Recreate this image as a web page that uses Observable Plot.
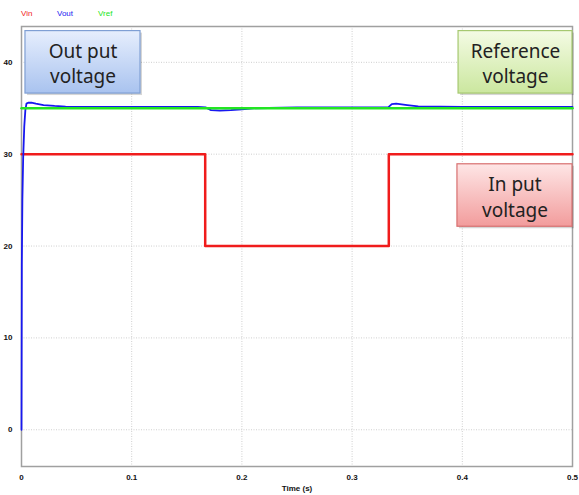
<!DOCTYPE html>
<html>
<head>
<meta charset="utf-8">
<script src="https://cdn.jsdelivr.net/npm/d3@7"></script>
<script src="https://cdn.jsdelivr.net/npm/@observablehq/plot@0.6"></script>
<style>
  body { margin: 0; background: #fff; }
  #legend { position: relative; height: 20px; width: 579px; font-family: "Liberation Sans", Arial, sans-serif; font-size: 8px; }
  #legend span { position: absolute; top: 9px; }
</style>
</head>
<body>
<div id="legend"></div>
<div id="chart"></div>
<script>
// ---- data ----
const seriesNames = ["Vin", "Vout", "Vref"];
const seriesColors = ["#f01c1c", "#1818f0", "#22e622"];
const legendLeft = [21, 57, 98];

// Input voltage (step changes)
const vinTime = [0, 0.1667, 0.3333, 0.5];
const vinValue = [30, 20, 30, 30];

// Output voltage
const voutTime = [0, 0.0003, 0.0008, 0.0015, 0.0025, 0.0035, 0.0045, 0.006, 0.009, 0.013, 0.02, 0.03, 0.04, 0.05, 0.08, 0.12, 0.16, 0.167, 0.172, 0.18, 0.19, 0.2, 0.21, 0.25, 0.3, 0.333, 0.336, 0.34, 0.35, 0.36, 0.4, 0.45, 0.5];
const voutValue = [0, 18, 25, 29.5, 33, 34.8, 35.5, 35.6, 35.6, 35.5, 35.35, 35.25, 35.18, 35.15, 35.15, 35.15, 35.15, 35.1, 34.8, 34.75, 34.8, 34.88, 35.0, 35.08, 35.1, 35.12, 35.45, 35.5, 35.35, 35.2, 35.15, 35.15, 35.15];

// Reference voltage
const vrefTime = [0, 0.5];
const vrefValue = [35, 35];

// Axis ticks
const yTicks = [0, 10, 20, 30, 40];
const xTicks = [0, 0.1, 0.2, 0.3, 0.4, 0.5];
const xGrid = [0.1, 0.2, 0.3, 0.4];

// Annotation boxes (data coordinates)
const boxLabels = ["Out put\nvoltage", "Reference\nvoltage", "In put\nvoltage"];
const boxT1 = [0.0036, 0.3966, 0.3956];
const boxT2 = [0.108, 0.5, 0.5];
const boxV1 = [36.6, 36.6, 22.1];
const boxV2 = [43.4, 43.4, 28.9];
const boxGrad = ["gBlue", "gGreen", "gRed"];
const boxBorder = ["#7f9fd4", "#a6c870", "#d87070"];

// ---- build ----
const vin = vinTime.map((t, i) => ({t, v: vinValue[i]}));
const vout = voutTime.map((t, i) => ({t, v: voutValue[i]}));
const vref = vrefTime.map((t, i) => ({t, v: vrefValue[i]}));
const boxes = boxLabels.map((label, i) => ({
  label, t1: boxT1[i], t2: boxT2[i], v1: boxV1[i], v2: boxV2[i],
  tm: (boxT1[i] + boxT2[i]) / 2, vm: (boxV1[i] + boxV2[i]) / 2,
  fill: `url(#${boxGrad[i]})`, stroke: boxBorder[i]
}));

const legend = document.getElementById("legend");
seriesNames.forEach((n, i) => {
  const s = document.createElement("span");
  s.textContent = n;
  s.style.left = legendLeft[i] + "px";
  s.style.color = seriesColors[i];
  legend.appendChild(s);
});

const chart = Plot.plot({
  width: 579,
  height: 475,
  marginTop: 6,
  marginBottom: 29,
  marginLeft: 21,
  marginRight: 7,
  style: {fontFamily: "'Liberation Sans', Arial, sans-serif", fontSize: "8px", color: "#111", background: "#fff"},
  x: {domain: [0, 0.5], label: null},
  y: {domain: [-4, 43.9], label: null},
  marks: [
    Plot.ruleY(yTicks, {stroke: "#cfcfcf", strokeWidth: 1, strokeDasharray: "1,1.5"}),
    Plot.ruleX(xGrid, {stroke: "#cfcfcf", strokeWidth: 1, strokeDasharray: "1,1.5"}),
    Plot.frame({stroke: "#a0a0a0", strokeWidth: 1.5}),
    Plot.axisX({ticks: xTicks, tickSize: 0, tickPadding: 8, tickFormat: d => String(d), label: null, fontWeight: "bold"}),
    Plot.text(["Time (s)"], {frameAnchor: "bottom", dy: 24, text: d => d, fontWeight: "bold", fontSize: 8}),
    Plot.axisY({ticks: yTicks, tickSize: 0, tickPadding: 9, label: null, fontWeight: "bold"}),
    Plot.line(vin, {x: "t", y: "v", curve: "step-after", stroke: seriesColors[0], strokeWidth: 2.5}),
    Plot.line(vout, {x: "t", y: "v", stroke: seriesColors[1], strokeWidth: 1.8}),
    Plot.line(vref, {x: "t", y: "v", stroke: seriesColors[2], strokeWidth: 2.5}),
    Plot.rect(boxes, {x1: "t1", x2: "t2", y1: "v1", y2: "v2", fill: "#000", fillOpacity: 0.16, dx: 2, dy: 2}),
    Plot.rect(boxes, {x1: "t1", x2: "t2", y1: "v1", y2: "v2", fill: d => d.fill, stroke: d => d.stroke, strokeWidth: 1.2}),
    Plot.text(boxes, {x: "tm", y: "vm", text: "label", fontSize: 19, lineHeight: 1.35, fill: "#222", fontFamily: "'Noto Sans', sans-serif"})
  ]
});

// gradients
const defs = d3.select(chart).insert("defs", ":first-child");
const grads = [
  ["gBlue", "#e6eefd", "#a9c3ef"],
  ["gGreen", "#f4fbe4", "#cbe79f"],
  ["gRed", "#fee6e6", "#f29c9c"]
];
grads.forEach(([id, c1, c2]) => {
  const g = defs.append("linearGradient").attr("id", id).attr("x1", 0).attr("y1", 0).attr("x2", 0).attr("y2", 1);
  g.append("stop").attr("offset", "0%").attr("stop-color", c1);
  g.append("stop").attr("offset", "100%").attr("stop-color", c2);
});

document.getElementById("chart").appendChild(chart);
</script>
</body>
</html>
